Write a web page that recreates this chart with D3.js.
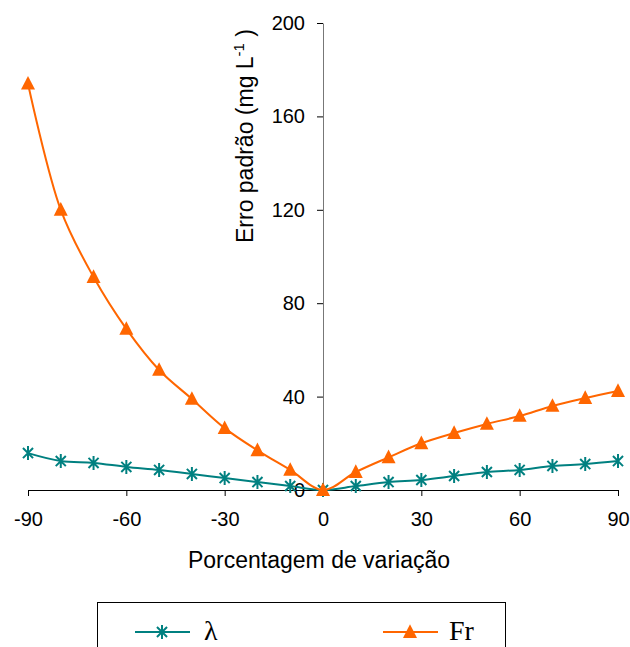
<!DOCTYPE html>
<html>
<head>
<meta charset="utf-8">
<script src="https://cdn.jsdelivr.net/npm/d3@7"></script>
<style>
  body { margin: 0; background: #fff; }
  svg { display: block; }
</style>
</head>
<body>
<svg id="chart"></svg>
<script>
// values
const variacao = [-90, -80, -70, -60, -50, -40, -30, -20, -10, 0, 10, 20, 30, 40, 50, 60, 70, 80, 90];
const lambdaErro = [15.8, 12.4, 11.6, 9.9, 8.6, 6.9, 5.1, 3.4, 1.7, 0, 1.7, 3.4, 4.3, 6.0, 7.7, 8.6, 10.3, 11.1, 12.4];
const frErro = [174, 120, 91.2, 69, 51.4, 39, 26.5, 17, 8.6, 0, 7.7, 14, 20, 24.4, 28.3, 31.7, 36, 39.4, 42.4];
const xTicks = [-90, -60, -30, 0, 30, 60, 90];
const yTicks = [0, 40, 80, 120, 160, 200];

const width = 630;
const height = 647;
const sans = "Arial, 'Liberation Sans', sans-serif";
const serif = "'Times New Roman', 'Liberation Serif', serif";

const svg = d3.select("#chart")
  .attr("width", width)
  .attr("height", height);

const x = d3.scaleLinear().domain([-90, 90]).range([28, 618]);
const y = d3.scaleLinear().domain([0, 200]).range([490, 23]);

// x axis along the bottom, plain hyphen for negatives
svg.append("g")
  .attr("transform", `translate(0,${y(0)})`)
  .call(d3.axisBottom(x).tickValues(xTicks).tickSize(6).tickPadding(16).tickFormat(d => String(d)))
  .call(g => g.selectAll("text").attr("font-size", 20).attr("font-family", sans).attr("fill", "#000"))
  .call(g => g.selectAll("line, path").attr("stroke", "#000"));

// y axis sits at zero
svg.append("g")
  .attr("transform", `translate(${x(0)},0)`)
  .call(d3.axisLeft(y).tickValues(yTicks).tickSize(6).tickPadding(12).tickSizeOuter(0))
  .call(g => g.selectAll("text").attr("font-size", 20).attr("font-family", sans).attr("fill", "#000"))
  .call(g => g.select("path").attr("stroke", "#777"))
  .call(g => g.selectAll("line").attr("stroke", "#000"));

// axis titles
svg.append("text")
  .attr("x", 319)
  .attr("y", 568)
  .attr("text-anchor", "middle")
  .attr("font-family", sans)
  .attr("font-size", 23)
  .text("Porcentagem de variação");

const yTitle = svg.append("text")
  .attr("transform", "translate(253,136) rotate(-90)")
  .attr("text-anchor", "middle")
  .attr("font-family", sans)
  .attr("font-size", 23);
yTitle.append("tspan").text("Erro padrão (mg L");
yTitle.append("tspan").attr("dy", -9).attr("font-size", 15).text("-1");
yTitle.append("tspan").attr("dy", 9).text(" )");

const line = d3.line()
  .x((d, i) => x(variacao[i]))
  .y(d => y(d))
  .curve(d3.curveCatmullRom.alpha(0.5));

const teal = "#008080";
const orange = "#FF6600";

function star(g, cx, cy, r) {
  const a = r * 0.72;
  g.append("path")
    .attr("d", `M${cx},${cy - r}L${cx},${cy + r}M${cx - a},${cy - a}L${cx + a},${cy + a}M${cx - a},${cy + a}L${cx + a},${cy - a}`)
    .attr("stroke", teal)
    .attr("stroke-width", 2)
    .attr("fill", "none");
}

function triangle(g, cx, cy, s) {
  g.append("path")
    .attr("d", `M${cx},${cy - s * 0.55}L${cx + s / 2},${cy + s * 0.42}L${cx - s / 2},${cy + s * 0.42}Z`)
    .attr("fill", orange);
}

// lambda series
svg.append("path")
  .datum(lambdaErro)
  .attr("d", line)
  .attr("fill", "none")
  .attr("stroke", teal)
  .attr("stroke-width", 2);

const lamMarks = svg.append("g");
lambdaErro.forEach((v, i) => star(lamMarks, x(variacao[i]), y(v), 7));

// Fr series
svg.append("path")
  .datum(frErro)
  .attr("d", line)
  .attr("fill", "none")
  .attr("stroke", orange)
  .attr("stroke-width", 2);

const frMarks = svg.append("g");
frErro.forEach((v, i) => triangle(frMarks, x(variacao[i]), y(v), 14));

// legend box, cut at the bottom edge
const legend = svg.append("g");
legend.append("rect")
  .attr("x", 97.5)
  .attr("y", 602.5)
  .attr("width", 408)
  .attr("height", 60)
  .attr("fill", "#fff")
  .attr("stroke", "#000")
  .attr("stroke-width", 1);

legend.append("line")
  .attr("x1", 135).attr("x2", 190).attr("y1", 632).attr("y2", 632)
  .attr("stroke", teal).attr("stroke-width", 2);
star(legend, 162, 632, 7);
legend.append("text")
  .attr("x", 204).attr("y", 640)
  .attr("font-family", serif)
  .attr("font-size", 28)
  .text("λ");

legend.append("line")
  .attr("x1", 383).attr("x2", 438).attr("y1", 632).attr("y2", 632)
  .attr("stroke", orange).attr("stroke-width", 2);
triangle(legend, 410, 632, 14);
legend.append("text")
  .attr("x", 449).attr("y", 640)
  .attr("font-family", serif)
  .attr("font-size", 28)
  .text("Fr");
</script>
</body>
</html>
